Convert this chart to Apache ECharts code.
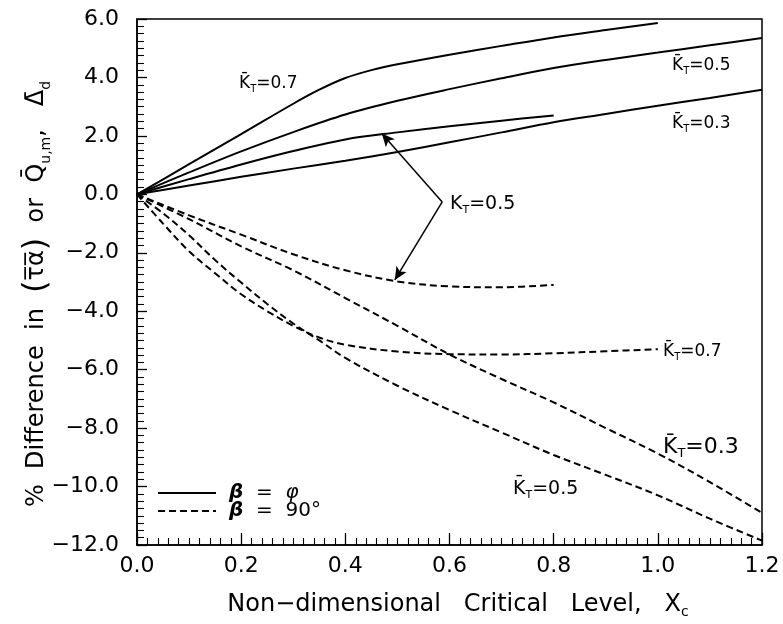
<!DOCTYPE html>
<html>
<head>
<meta charset="utf-8">
<script src="https://cdn.jsdelivr.net/npm/echarts/dist/echarts.min.js"></script>
<style>
  html, body { margin: 0; padding: 0; background: #fff; }
  #chart { width: 783px; height: 624px; }
</style>
</head>
<body>
<div id="chart"></div>
<script>
// Axis ranges and tick steps
const xRange = [0, 1.2];
const yRange = [-12, 6];
const xStep = 0.2;
const yStep = 2;

// beta = phi (solid curves)
const xKbar07Solid = [0, 0.1, 0.2, 0.3, 0.35, 0.4, 0.45, 0.5, 0.6, 0.7, 0.8, 0.9, 1.0];
const yKbar07Solid = [0, 1.03, 2.06, 3.1, 3.58, 3.98, 4.25, 4.45, 4.78, 5.08, 5.37, 5.62, 5.86];

const xKbar05Solid = [0, 0.1, 0.2, 0.3, 0.4, 0.5, 0.6, 0.7, 0.8, 0.9, 1.0, 1.1, 1.2];
const yKbar05Solid = [0, 0.75, 1.47, 2.13, 2.73, 3.2, 3.6, 3.97, 4.32, 4.6, 4.85, 5.1, 5.35];

const xK05Solid = [0, 0.1, 0.2, 0.3, 0.4, 0.5, 0.6, 0.7, 0.8];
const yK05Solid = [0, 0.52, 1.02, 1.48, 1.88, 2.12, 2.33, 2.52, 2.7];

const xKbar03Solid = [0, 0.1, 0.2, 0.3, 0.4, 0.5, 0.6, 0.7, 0.8, 0.9, 1.0, 1.1, 1.2];
const yKbar03Solid = [0, 0.3, 0.6, 0.88, 1.15, 1.45, 1.78, 2.12, 2.47, 2.75, 3.03, 3.3, 3.58];

// beta = 90 deg (dashed curves)
const xK05Dashed = [0, 0.1, 0.2, 0.3, 0.4, 0.5, 0.6, 0.7, 0.8];
const yK05Dashed = [0, -0.72, -1.38, -2.05, -2.6, -2.98, -3.15, -3.18, -3.1];

const xKbar07Dashed = [0, 0.05, 0.1, 0.15, 0.2, 0.25, 0.3, 0.35, 0.4, 0.5, 0.6, 0.7, 0.8, 0.9, 1.0];
const yKbar07Dashed = [0, -1.0, -1.95, -2.7, -3.42, -4.0, -4.5, -4.9, -5.15, -5.38, -5.47, -5.48, -5.44, -5.37, -5.3];

const xKbar03Dashed = [0, 0.1, 0.2, 0.3, 0.4, 0.5, 0.6, 0.7, 0.8, 0.9, 1.0, 1.1, 1.2];
const yKbar03Dashed = [0, -0.85, -1.78, -2.6, -3.55, -4.5, -5.48, -6.32, -7.12, -8.0, -8.87, -9.85, -10.9];

const xKbar05Dashed = [0, 0.05, 0.1, 0.15, 0.2, 0.25, 0.3, 0.35, 0.4, 0.5, 0.6, 0.7, 0.8, 0.9, 1.0, 1.1, 1.2];
const yKbar05Dashed = [0, -0.65, -1.4, -2.25, -3.02, -3.75, -4.42, -5.0, -5.6, -6.55, -7.38, -8.15, -8.92, -9.6, -10.3, -11.1, -11.85];

// Arrow pointers from the K_T=0.5 note (vertex, upper tip, lower tip)
const arrowVertex = [0.586, -0.26];
const arrowTipUpper = [0.47, 2.08];
const arrowTipLower = [0.495, -2.93];

const SOLID = 'solid';
const DASHED = 'dashed';
const FONT = 'DejaVu Sans';
const INK = '#000';

function pairs(xs, ys) { return xs.map((x, i) => [x, ys[i]]); }

function curve(name, xs, ys, dashed, extra) {
  return Object.assign({
    name: name,
    type: 'line',
    data: pairs(xs, ys),
    showSymbol: false,
    symbol: 'none',
    smooth: 0.35,
    silent: true,
    animation: false,
    lineStyle: { color: INK, width: 2, type: dashed ? [7, 4] : 'solid' },
    itemStyle: { color: INK },
    z: 3
  }, extra || {});
}

function fmtNum(v) {
  const s = (Math.round(v * 10) / 10).toFixed(1);
  return s.replace('-', '\u2212');
}

const chart = echarts.init(document.getElementById('chart'), null, { renderer: 'canvas' });

const kRich = (size) => ({
  k: { fontFamily: FONT, fontSize: size, color: INK, lineHeight: size + 4 },
  t: { fontFamily: FONT, fontSize: Math.round(size * 0.6), color: INK, verticalAlign: 'bottom', lineHeight: Math.round(size * 0.6) }
});

function kLabel(x, y, text, size, barred) {
  const k = barred ? 'K\u0304' : 'K';
  return {
    type: 'text', x: x, y: y, silent: true, z: 10,
    style: {
      text: '{k|' + k + '}{t|T}{k|=' + text + '}',
      rich: kRich(size),
      fill: INK,
      align: 'left', verticalAlign: 'middle',
      textAlign: 'left', textVerticalAlign: 'middle'
    }
  };
}

const option = {
  backgroundColor: '#fff',
  animation: false,
  grid: {
    left: 137, top: 19, right: 21, bottom: 79,
    show: true, borderColor: INK, borderWidth: 1.5,
    containLabel: false,
    outerBoundsMode: 'none'
  },
  legend: {
    show: true,
    orient: 'vertical',
    left: 152, top: 478,
    itemWidth: 58, itemHeight: 12, itemGap: -2,
    selectedMode: false,
    data: [SOLID, DASHED],
    itemStyle: { opacity: 0, borderWidth: 0 },
    formatter: function (name) {
      return name === SOLID ? '{b|β}{n|  =  }{i|φ}' : '{b|β}{n|  =  90°}';
    },
    textStyle: {
      color: INK,
      padding: [0, 0, 0, 8],
      rich: {
        b: { fontFamily: FONT, fontSize: 20, fontStyle: 'italic', fontWeight: 'bold', color: INK, lineHeight: 16 },
        i: { fontFamily: FONT, fontSize: 20, fontStyle: 'italic', color: INK, lineHeight: 16 },
        n: { fontFamily: FONT, fontSize: 20, color: INK, lineHeight: 16 }
      }
    }
  },
  xAxis: {
    type: 'value',
    min: xRange[0], max: xRange[1], interval: xStep,
    axisLine: { show: true, onZero: false, lineStyle: { color: INK, width: 1.5 } },
    axisTick: { show: true, inside: true, length: 12, lineStyle: { color: INK, width: 1.3 } },
    minorTick: { show: true, splitNumber: 10, length: 7, lineStyle: { color: INK, width: 1.1 } },
    splitLine: { show: false },
    axisLabel: { color: INK, fontFamily: FONT, fontSize: 22, margin: 10, formatter: fmtNum }
  },
  yAxis: {
    type: 'value',
    min: yRange[0], max: yRange[1], interval: yStep,
    axisLine: { show: true, onZero: false, lineStyle: { color: INK, width: 1.5 } },
    axisTick: { show: true, inside: true, length: 10, lineStyle: { color: INK, width: 1.3 } },
    minorTick: { show: true, splitNumber: 8, length: 7, lineStyle: { color: INK, width: 1.1 } },
    splitLine: { show: false },
    axisLabel: { color: INK, fontFamily: FONT, fontSize: 22, margin: 18, formatter: fmtNum }
  },
  series: [
    curve(SOLID, xKbar07Solid, yKbar07Solid, false),
    curve(SOLID, xKbar05Solid, yKbar05Solid, false),
    curve(SOLID, xK05Solid, yK05Solid, false, {
      markLine: {
        silent: true,
        animation: false,
        symbol: ['none', 'arrow'],
        symbolSize: [9, 13],
        label: { show: false },
        lineStyle: { color: INK, width: 1.5, type: 'solid' },
        data: [
          [{ coord: arrowVertex }, { coord: arrowTipUpper }],
          [{ coord: arrowVertex }, { coord: arrowTipLower }]
        ]
      }
    }),
    curve(SOLID, xKbar03Solid, yKbar03Solid, false),
    curve(DASHED, xK05Dashed, yK05Dashed, true),
    curve(DASHED, xKbar07Dashed, yKbar07Dashed, true),
    curve(DASHED, xKbar03Dashed, yKbar03Dashed, true),
    curve(DASHED, xKbar05Dashed, yKbar05Dashed, true)
  ],
  graphic: [
    // curve notes
    kLabel(239, 84, '0.7', 17, true),
    kLabel(672, 66, '0.5', 17, true),
    kLabel(672, 124, '0.3', 17, true),
    kLabel(450, 204, '0.5', 19, false),
    kLabel(663, 352, '0.7', 17, true),
    kLabel(663, 447, '0.3', 22, true),
    kLabel(513, 489, '0.5', 19, true),
    // x-axis title
    {
      type: 'text', x: 458, y: 605, silent: true,
      style: {
        text: '{n|Non\u2212dimensional   Critical   Level,   X}{s|c}',
        rich: {
          n: { fontFamily: FONT, fontSize: 24, color: INK, lineHeight: 28 },
          s: { fontFamily: FONT, fontSize: 14, color: INK, verticalAlign: 'bottom', lineHeight: 14 }
        },
        align: 'center', verticalAlign: 'middle',
        textAlign: 'center', textVerticalAlign: 'middle'
      }
    },
    // y-axis title
    {
      type: 'text', x: 37, y: 294, rotation: Math.PI / 2, silent: true,
      style: {
        text: '{n|%  Difference  in  }{p|(}{n|\u03c4\u0305\u03b1\u0305}{p|)}{n|  or  Q\u0304}{s|u,m}{n|,   \u0394\u0304}{s|d}',
        rich: {
          n: { fontFamily: FONT, fontSize: 24, color: INK, lineHeight: 32 },
          p: { fontFamily: FONT, fontSize: 32, color: INK, lineHeight: 32 },
          s: { fontFamily: FONT, fontSize: 14, color: INK, verticalAlign: 'bottom', lineHeight: 14 }
        },
        align: 'center', verticalAlign: 'middle',
        textAlign: 'center', textVerticalAlign: 'middle'
      }
    }
  ]
};

chart.setOption(option);
</script>
</body>
</html>
